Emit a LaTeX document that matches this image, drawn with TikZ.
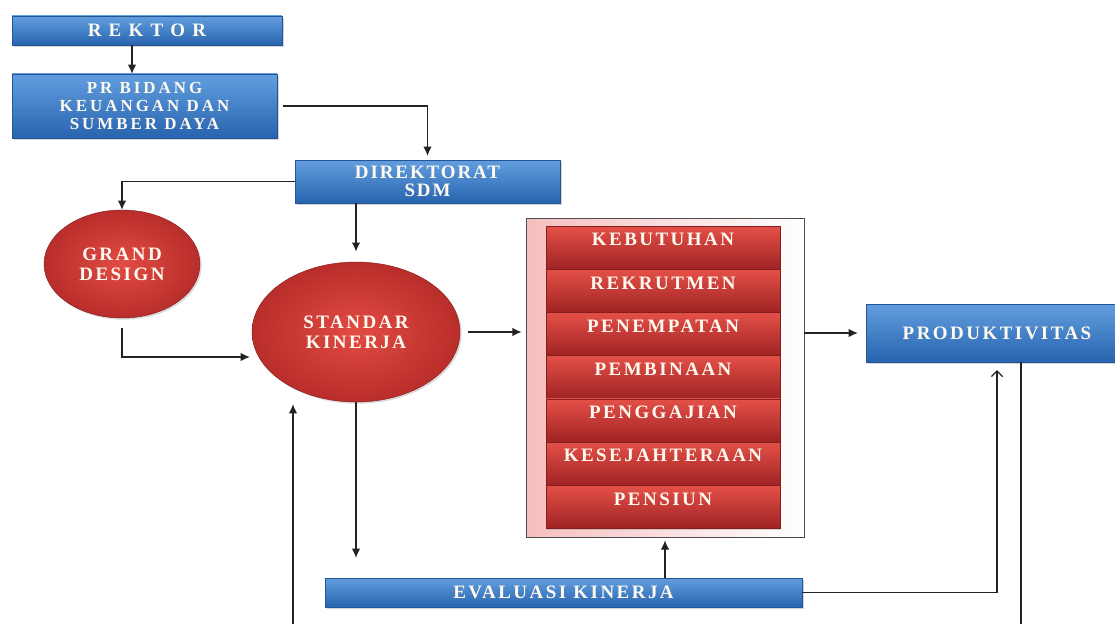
\documentclass[tikz,border=0pt]{standalone}
\usepackage{fontspec}
\setmainfont{Liberation Serif}
\usetikzlibrary{arrows.meta,shadows,calc,shapes.geometric}
\definecolor{bluetop}{RGB}{98,158,222}
\definecolor{bluebot}{RGB}{40,100,175}
\definecolor{blueedge}{RGB}{35,85,150}
\definecolor{redtop}{RGB}{228,80,72}
\definecolor{redbot}{RGB}{160,35,35}
\definecolor{ballin}{RGB}{226,76,68}
\definecolor{ballout}{RGB}{185,45,42}
\definecolor{rededge}{RGB}{130,30,30}
\definecolor{pinkfill}{RGB}{246,190,190}
\definecolor{txtw}{RGB}{255,250,240}
\definecolor{linec}{RGB}{35,35,35}
\begin{document}
\begin{tikzpicture}[x=0.025cm,y=-0.025cm,
  wh/.style 2 args={minimum width=#1*0.025cm, minimum height=#2*0.025cm},
  lbl/.style={text=txtw, font=\fontsize{13.5}{14.5}\selectfont\bfseries\addfontfeature{LetterSpace=13}, align=center},
  bluebox/.style={rectangle, inner sep=0pt, top color=bluetop, bottom color=bluebot, draw=blueedge, line width=0.3pt, lbl,
    drop shadow={opacity=0.35,shadow xshift=1.2pt,shadow yshift=-1.2pt}},
  redball/.style={ellipse, inner sep=0pt, shading=radial, inner color=ballin, outer color=ballout, draw=rededge, line width=0.3pt, lbl,
    drop shadow={opacity=0.3,shadow xshift=1.2pt,shadow yshift=-1.2pt}},
  reditem/.style={rectangle, inner sep=0pt, top color=redtop, bottom color=redbot, draw=rededge, line width=0.3pt,
    drop shadow={opacity=0.3,shadow xshift=1pt,shadow yshift=-1pt}},
  grpbox/.style={rectangle, inner sep=0pt, left color=pinkfill, right color=white, draw=black!70, line width=0.6pt},
  line/.style={draw=linec, line width=0.8pt},
  conn/.style={line, -{Latex[length=6.5pt,width=6pt]}},
  connopen/.style={line, -{Straight Barb[length=4pt,width=8pt]}}
]
\useasboundingbox (0,0) rectangle (1115,624);

% boxes
\node[bluebox, wh={270}{29}] (rektor) at (147,30.5) {R E K T O R};
\node[bluebox, wh={265}{64}, font=\fontsize{12}{12.5}\selectfont\bfseries\addfontfeature{LetterSpace=18}] (pr) at (144.5,106) {PR BIDANG\\KEUANGAN DAN\\SUMBER DAYA};
\node[bluebox, wh={265}{43}, font=\fontsize{13.5}{12.5}\selectfont\bfseries\addfontfeature{LetterSpace=10}] (dir) at (427.5,181.5) {DIREKTORAT\\SDM};
\node[redball, wh={156}{108}] (gd) at (122,264) {GRAND\\DESIGN};
\node[redball, wh={208}{140}] (sk) at (356,332) {STANDAR\\KINERJA};
\node[grpbox, wh={278}{319}] (grp) at (665,377.5) {};
\foreach \t [count=\i from 0] in {KEBUTUHAN,REKRUTMEN,PENEMPATAN,PEMBINAAN,PENGGAJIAN,KESEJAHTERAAN,PENSIUN}{
  \node[reditem, wh={234}{43}] (it\i) at (663,{247.5+43.2*\i}) {};
  \node[lbl] (it\i t) at ($(it\i.north)+(0,14)$) {\t};
}
\node[bluebox, wh={262}{58}] (prod) at (997,333) {PRODUKTIVITAS};
\node[bluebox, wh={477}{29}] (eval) at (563.5,592.5) {EVALUASI KINERJA};

\coordinate (pe) at (1021,624);
\coordinate (le) at (293,624);

% connectors
\draw[conn] (132,0 |- rektor.south) -- (132,0 |- pr.north);
\draw[conn, shorten <=0.15cm, shorten >=0.1cm] (pr.east) -| (dir.north);
\draw[conn] (dir.west) -| (gd.north);
\draw[conn, line width=1.3pt, shorten >=0.25cm] (dir.south -| sk.north) -- (sk.north);
\draw[conn, shorten <=0.25cm, shorten >=0.05cm] (gd.south) |- (sk.west |- 0,357);
\draw[conn, shorten <=0.2cm, shorten >=0.1cm] (sk.east) -- (sk.east -| grp.west);
\draw[conn, shorten >=0.2cm] (grp.east |- prod.west) -- (prod.west);
\draw[conn, shorten >=0.5cm] (sk.south) -- (sk.south |- eval.north);
\draw[conn, shorten >=0.075cm] (eval.north -| grp.south) -- (grp.south);
\draw[connopen, shorten >=0.2cm] (eval.east) -| (prod.south);
\draw[line] (prod.south -| pe) -- (pe);
\draw[conn, shorten >=0.05cm] (le) -- (le |- sk.south);
\end{tikzpicture}
\end{document}
